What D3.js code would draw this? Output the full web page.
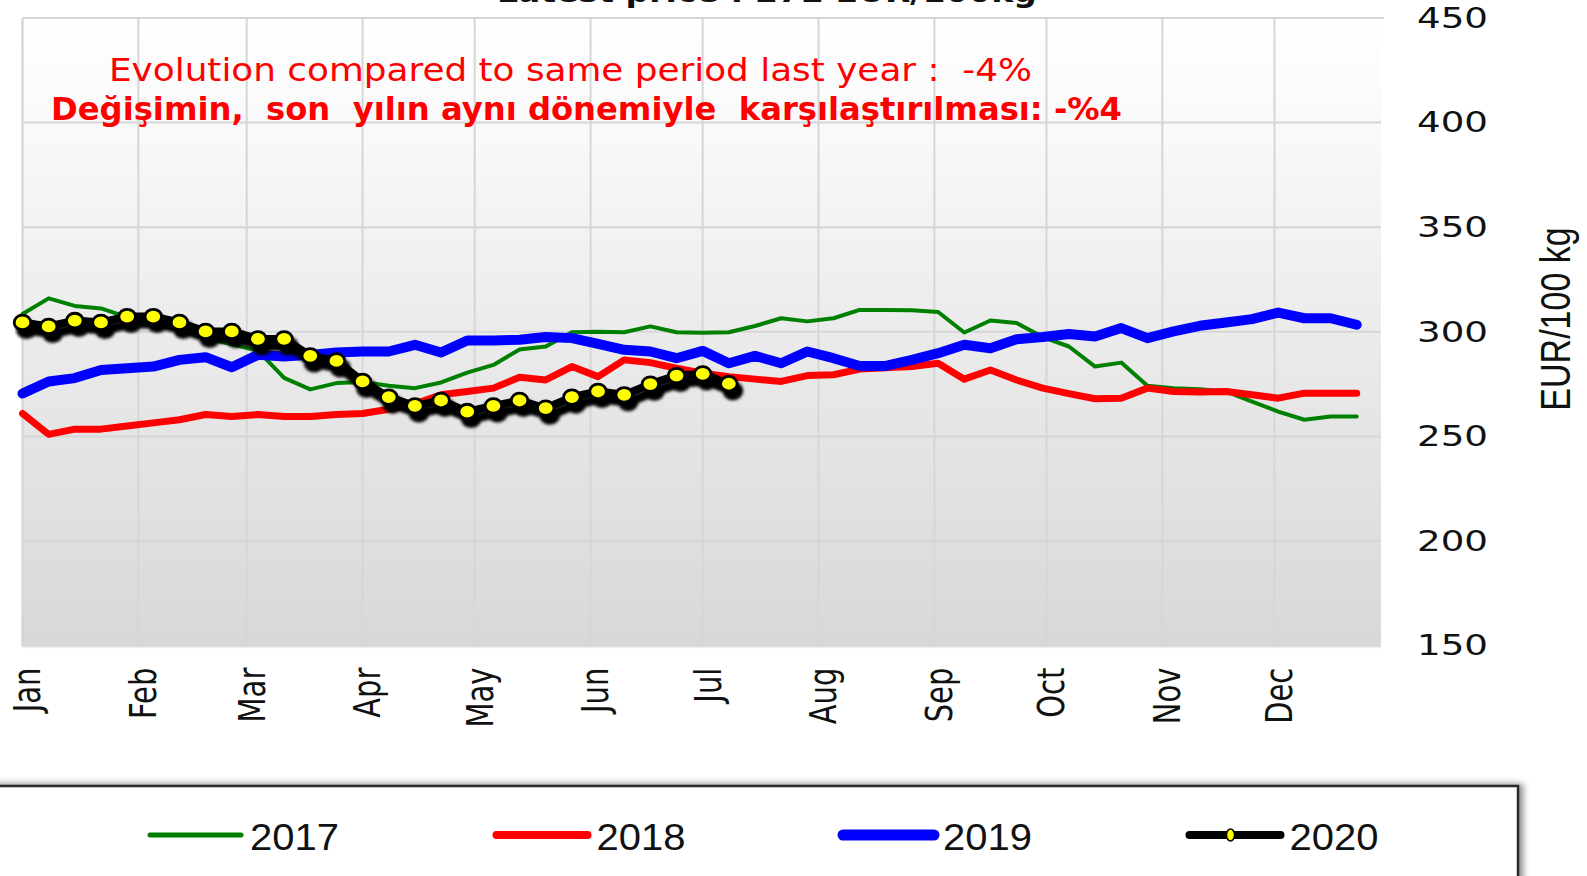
<!DOCTYPE html>
<html><head><meta charset="utf-8">
<script src="https://cdn.jsdelivr.net/npm/d3@7"></script>
<style>body{margin:0;background:#fff;overflow:hidden} svg{display:block}</style>
</head><body>
<svg id="chart" width="1587" height="876"></svg>
<script>
// ---------- data ----------
const weeks = [1,2,3,4,5,6,7,8,9,10,11,12,13,14,15,16,17,18,19,20,21,22,23,24,25,26,
               27,28,29,30,31,32,33,34,35,36,37,38,39,40,41,42,43,44,45,46,47,48,49,50,51,52];
const monthNames = ['Jan','Feb','Mar','Apr','May','Jun','Jul','Aug','Sep','Oct','Nov','Dec'];
const monthStartDays = [0,31,60,91,121,152,182,213,244,274,305,335];
const yTicks = [150,200,250,300,350,400,450];
const seriesNames = ['2017','2018','2019','2020'];
const values2017 = [308.5,316,312.4,311.2,307,304,301,297,294,291,278,272.5,275.5,276,274.2,273.1,275.8,280.5,284.2,291.6,293,299.8,300,299.8,302.6,299.8,299.6,299.8,302.8,306.5,305,306.5,310.5,310.5,310.3,309.5,299.7,305.4,304.2,297.5,293,283.4,285.3,274.2,273.1,272.6,271.5,266.7,261.9,258,259.5,259.5];
const values2018 = [261,251,253.5,253.5,255,256.5,258,260.5,259.5,260.5,259.5,259.5,260.5,261,263,265.6,269.9,271.5,273.1,278.3,277,283.4,278.6,286.6,285.3,282.6,280.2,278.6,277.4,276.3,279.1,279.5,282.2,282.8,283.4,285,277.4,281.8,277,273.1,270.5,268,268.3,273.1,271.5,271.2,271.5,269.9,268.3,270.7,270.7,270.7];
const values2019 = [270.5,276.3,277.9,281.8,282.6,283.4,286.6,287.9,283.1,289,288.2,289,290.1,290.6,290.6,293.8,290.1,295.9,295.9,296.2,297.5,297,294.3,291.4,290.6,287.4,290.9,285,288.5,285,290.6,287.4,283.7,283.7,286.6,289.8,293.8,292.2,296.5,297.5,299,297.8,301.8,297,300.2,302.9,304.5,306.1,309.2,306.5,306.5,303.4];
const values2020 = [304.5,302.6,305.4,304.5,307.3,307.3,304.5,300.2,300.2,296.6,296.6,288.5,286.1,276.3,268.8,264.6,267.2,261.9,264.6,267.2,263.5,268.8,271.5,269.9,275,279.1,279.9,275.2];
const titleText = 'Latest price : 272 EUR/100kg';
const noteEn = 'Evolution compared to same period last year :  -4%';
const noteTr = 'Değişimin,  son  yılın aynı dönemiyle  karşılaştırılması: -%4';
const yAxisTitle = 'EUR/100 kg';

// ---------- layout ----------
const svg = d3.select('#chart');
const L = 22.5, R = 1381, T = 18, B = 645.7;
const STRETCH = 1.27;
const x = d3.scaleLinear().domain([0, 363.5]).range([L, R]);
const y = d3.scaleLinear().domain([150, 450]).range([B, T]);
const dayOf = w => (w - 1) * 7;

const defs = svg.append('defs');
const grad = defs.append('linearGradient').attr('id','bg').attr('gradientUnits','userSpaceOnUse')
  .attr('x1',0).attr('x2',0).attr('y1',T).attr('y2',B);
grad.append('stop').attr('offset',0).attr('stop-color','#ffffff');
grad.append('stop').attr('offset',0.2).attr('stop-color','#f8f8f8');
grad.append('stop').attr('offset',0.5).attr('stop-color','#ebebeb');
grad.append('stop').attr('offset',1).attr('stop-color','#d8d8d8');
const blur = defs.append('filter').attr('id','blur').attr('x','-20%').attr('y','-20%').attr('width','140%').attr('height','140%');
blur.append('feGaussianBlur').attr('stdDeviation',1.4);
const boxShadow = defs.append('filter').attr('id','boxshadow').attr('x','-5%').attr('y','-20%').attr('width','110%').attr('height','140%');
boxShadow.append('feDropShadow').attr('dx',4).attr('dy',-1).attr('stdDeviation',3)
  .attr('flood-color','#444').attr('flood-opacity',0.6);

// title (cut off at the top, as in the reference)
svg.append('text').attr('x',497).attr('y',2).attr('font-family','DejaVu Sans').attr('font-weight','bold')
  .attr('font-size',30).attr('fill','#111').attr('textLength',540).attr('lengthAdjust','spacingAndGlyphs')
  .text(titleText);

// plot background
svg.append('rect').attr('x',L).attr('y',T).attr('width',R-L).attr('height',B-T).attr('fill','url(#bg)');
svg.append('line').attr('x1',L).attr('x2',R).attr('y1',B+1.5).attr('y2',B+1.5).attr('stroke','#eeeeee').attr('stroke-width',2);
svg.append('line').attr('x1',L).attr('x2',L).attr('y1',T).attr('y2',B).attr('stroke','#d0d0d0').attr('stroke-width',1.5);

// gridlines
svg.append('g').selectAll('line').data(yTicks).join('line')
  .attr('x1',L).attr('x2',d => d === 450 ? R + 3 : R)
  .attr('y1',d => y(d)).attr('y2',d => y(d))
  .attr('stroke','#d6d6d6').attr('stroke-width',2);
svg.append('g').selectAll('line').data(monthStartDays).join('line')
  .attr('x1',d => x(d)).attr('x2',d => x(d)).attr('y1',T).attr('y2',B)
  .attr('stroke','#d6d6d6').attr('stroke-width',2);

// notes
svg.append('text').attr('x',109).attr('y',81).attr('font-family','DejaVu Sans').attr('font-size',32)
  .attr('fill','#ff0000').style('white-space','pre').attr('textLength',923).attr('lengthAdjust','spacingAndGlyphs')
  .text(noteEn);
svg.append('text').attr('x',51).attr('y',119.5).attr('font-family','DejaVu Sans').attr('font-weight','bold').attr('font-size',32)
  .attr('fill','#ff0000').style('white-space','pre').attr('textLength',1071).attr('lengthAdjust','spacingAndGlyphs')
  .text(noteTr);

// series
const line = d3.line().x((d,i) => x(dayOf(weeks[i]))).y(d => y(d)).curve(d3.curveLinear);
const styles = [
  {vals: values2017, color: '#008000', w: 4},
  {vals: values2018, color: '#ff0000', w: 7},
  {vals: values2019, color: '#0000ff', w: 10}
];
styles.forEach(s => {
  svg.append('path').attr('d', line(s.vals)).attr('fill','none').attr('stroke',s.color)
    .attr('stroke-width',s.w).attr('stroke-linejoin','round').attr('stroke-linecap','round');
});
// 2020 with shadow + markers
const sh = svg.append('g').attr('transform','translate(4,7)').attr('filter','url(#blur)');
sh.append('path').attr('d', line(values2020)).attr('fill','none').attr('stroke','#000').attr('stroke-width',10)
  .attr('stroke-linejoin','round').attr('stroke-linecap','round');
sh.selectAll('ellipse').data(values2020).join('ellipse')
  .attr('cx',(d,i) => x(dayOf(weeks[i]))).attr('cy',d => y(d)).attr('rx',10.5).attr('ry',9.5).attr('fill','#000');
svg.append('path').attr('d', line(values2020)).attr('fill','none').attr('stroke','#000').attr('stroke-width',8)
  .attr('stroke-linejoin','round').attr('stroke-linecap','round');
svg.append('g').selectAll('ellipse').data(values2020).join('ellipse')
  .attr('cx',(d,i) => x(dayOf(weeks[i]))).attr('cy',d => y(d)).attr('rx',8.3).attr('ry',7.3)
  .attr('fill','#ffff00').attr('stroke','#000').attr('stroke-width',2.8);

// y axis (right)
const yAxis = svg.append('g').attr('transform',`translate(${R},0)`)
  .call(d3.axisRight(y).tickValues(yTicks).tickSize(0).tickPadding(36).tickFormat(d3.format('d')));
yAxis.select('.domain').remove();
yAxis.selectAll('text').attr('font-family','DejaVu Sans').attr('font-size',29).attr('fill','#111')
  .attr('textLength',71).attr('lengthAdjust','spacingAndGlyphs');

svg.append('text').attr('transform',`translate(1555,319) scale(${STRETCH},1) rotate(-90)`)
  .attr('text-anchor','middle').attr('dy','0.35em').attr('font-family','Liberation Sans').attr('font-size',34)
  .attr('fill','#111').text(yAxisTitle);

// x axis (months)
const xAxis = svg.append('g').attr('transform',`translate(0,${B})`)
  .call(d3.axisBottom(x).tickValues(monthStartDays).tickSize(0).tickFormat((d,i) => monthNames[i]));
xAxis.select('.domain').remove();
xAxis.selectAll('text').attr('x',0).attr('y',0).attr('dy','0.35em')
  .attr('transform',`translate(4.5,22) scale(${STRETCH},1) rotate(-90)`)
  .attr('text-anchor','end').attr('font-family','DejaVu Sans').attr('font-size',29).attr('fill','#111');

// legend
svg.append('rect').attr('x',-10).attr('y',786).attr('width',1528).attr('height',200)
  .attr('fill','#fff').attr('stroke','#2a2a2a').attr('stroke-width',2.5).attr('filter','url(#boxshadow)');
const legendColors = ['#008000','#ff0000','#0000ff','#000000'];
const legendWidths = [5,8,11,8];
const lg = svg.append('g').selectAll('g').data(seriesNames).join('g')
  .attr('transform',(d,i) => `translate(${150 + i*346.5},835)`);
lg.append('line').attr('x1',0).attr('x2',91).attr('y1',0).attr('y2',0)
  .attr('stroke',(d,i) => legendColors[i]).attr('stroke-width',(d,i) => legendWidths[i]).attr('stroke-linecap','round');
lg.filter((d,i) => i === 3).append('ellipse').attr('cx',41).attr('cy',0).attr('rx',4).attr('ry',6)
  .attr('fill','#ffff00').attr('stroke','#000').attr('stroke-width',1.5);
lg.append('text').attr('x',100).attr('y',15).attr('font-family','Liberation Sans').attr('font-size',37)
  .attr('fill','#111').attr('textLength',89).attr('lengthAdjust','spacingAndGlyphs').text(d => d);
</script>
</body></html>
